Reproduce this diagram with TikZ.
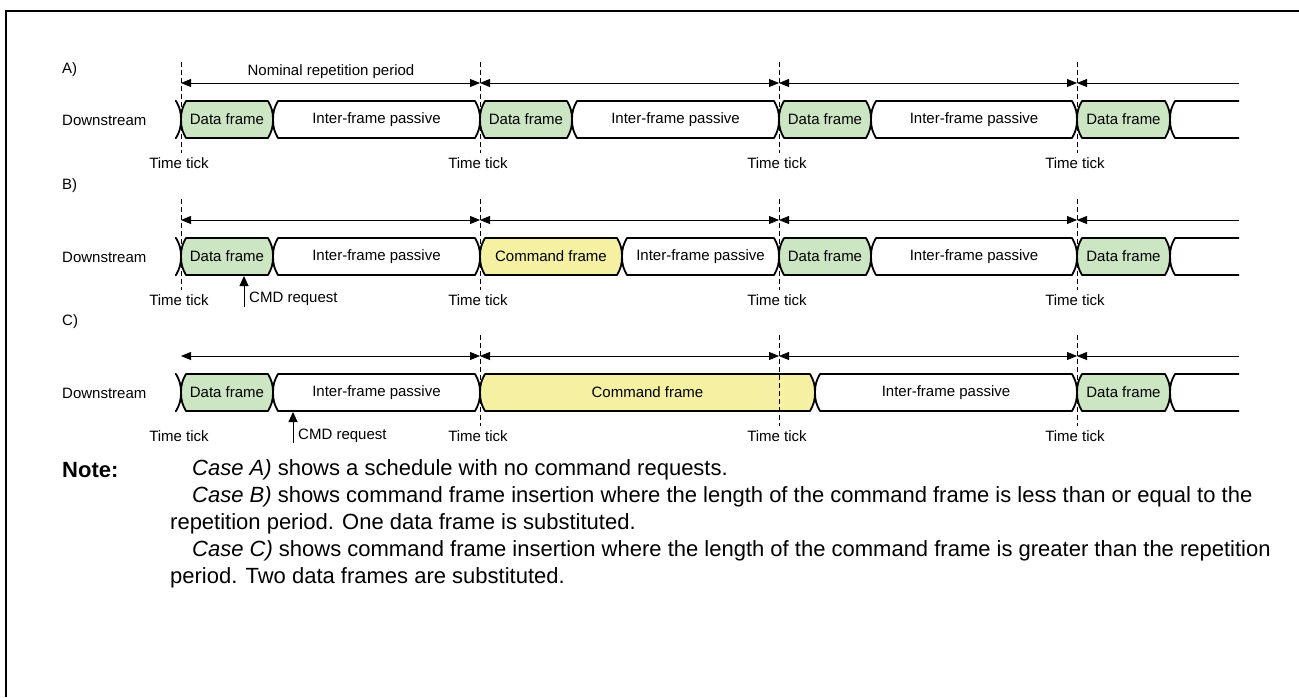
\documentclass[tikz,border=0pt]{standalone}
\usepackage{fontspec}
\setmainfont{Liberation Sans}
\usetikzlibrary{arrows.meta, positioning, calc}
\definecolor{framegreen}{HTML}{CCE6C4}
\definecolor{cmdyellow}{HTML}{F6F0A2}

\tikzset{
  bus/.style={draw=black, line width=1.8pt, line join=round},
  tickline/.style={line width=0.8pt, dash pattern=on 5pt off 3pt},
  period/.style={{Triangle[length=10pt,width=8pt]}-{Triangle[length=10pt,width=8pt]}, line width=0.8pt},
  halfperiod/.style={{Triangle[length=10pt,width=8pt]}-, line width=0.8pt},
  request/.style={-{Triangle[length=10pt,width=9pt]}, line width=0.9pt},
  lbl/.style={font=\fontsize{15}{18}\selectfont, inner sep=0pt},
  notetxt/.style={font=\fontsize{22}{26}\selectfont, inner sep=0pt, anchor=west},
}

% one bus segment between two crossings
\newcommand{\busseg}[6]{%
  \draw[bus, fill=#5] (#2+5,#4) -- (#3-5,#4) to[out=-60,in=90] (#3,#4+18.5)
    to[out=-90,in=60] (#3-5,#4+37) -- (#2+5,#4+37) to[out=120,in=-90] (#2,#4+18.5)
    to[out=90,in=-120] cycle;
  \node[lbl] (#1) at ({(#2+#3)/2},#4+18.5) {#6};
}
% open ends of the bus
\newcommand{\busstart}[1]{%
  \draw[bus] (175,#1) -- (176,#1) to[out=-60,in=90] (181,#1+18.5)
    to[out=-90,in=60] (176,#1+37) -- (175,#1+37);
}
\newcommand{\busend}[1]{%
  \draw[bus] (1239,#1) -- (1175,#1) to[out=-120,in=90] (1170,#1+18.5)
    to[out=-90,in=120] (1175,#1+37) -- (1239,#1+37);
}

\begin{document}
\begin{tikzpicture}[x=1pt, y=-1pt]
\useasboundingbox (0,0) rectangle (1299,697);

% frame
\draw[line width=2pt] (6,697) -- (6,11) -- (1299,11);

% case labels
\node[lbl, anchor=west] (caseA) at (62,70) {A)};
\node[lbl, anchor=west] (caseB) at (62,186) {B)};
\node[lbl, anchor=west] (caseC) at (62,322) {C)};
\foreach \r/\top in {A/101, B/238, C/374}
  \node[lbl, anchor=west] (ds\r) at (62,\top+19) {Downstream};

% Case A
\busstart{101}
\foreach \xa/\xb/\col/\txt [count=\i] in {181/273/framegreen/Data frame, 273/480/white/Inter-frame passive,
    480/572/framegreen/Data frame, 572/779/white/Inter-frame passive, 779/871/framegreen/Data frame,
    871/1077/white/Inter-frame passive, 1077/1170/framegreen/Data frame}
  {\busseg{A\i}{\xa}{\xb}{101}{\col}{\txt}}
\busend{101}

% Case B
\busstart{238}
\foreach \xa/\xb/\col/\txt [count=\i] in {181/273/framegreen/Data frame, 273/480/white/Inter-frame passive,
    480/622/cmdyellow/Command frame, 622/779/white/Inter-frame passive, 779/871/framegreen/Data frame,
    871/1077/white/Inter-frame passive, 1077/1170/framegreen/Data frame}
  {\busseg{B\i}{\xa}{\xb}{238}{\col}{\txt}}
\busend{238}

% Case C
\busstart{374}
\foreach \xa/\xb/\col/\txt [count=\i] in {181/273/framegreen/Data frame, 273/480/white/Inter-frame passive,
    480/815/cmdyellow/Command frame, 815/1077/white/Inter-frame passive, 1077/1170/framegreen/Data frame}
  {\busseg{C\i}{\xa}{\xb}{374}{\col}{\txt}}
\busend{374}

% time ticks and repetition periods
\foreach \r/\top in {A/101, B/238, C/374} {
  \foreach \t [count=\k] in {181,480,779,1077} {
    \coordinate (p\r\k) at (\t,\top-18);
    \node[lbl] (tt\r\k) at (\t-2,\top+62) {Time tick};
  }
  \coordinate (p\r5) at (1239,\top-18);
  \draw[period] (p\r1) -- (p\r2);
  \draw[period] (p\r2) -- (p\r3);
  \draw[period] (p\r3) -- (p\r4);
  \draw[halfperiod] (p\r4) -- (p\r5);
}
\foreach \t in {181,480,779,1077} {\draw[tickline] (\t,62) -- (\t,153);}
\foreach \t in {181,480,779,1077} {\draw[tickline] (\t,199) -- (\t,290);}
\foreach \t in {480,779,1077} {\draw[tickline] (\t,335) -- (\t,426);}
\node[lbl] (nominal) at (331,72) {Nominal repetition period};

% command requests
\coordinate (reqB) at (244,307);
\coordinate (reqC) at (293,443);
\draw[request] (reqB) -- (244,276);
\draw[request] (reqC) -- (293,412);
\node[lbl, anchor=west] (cmdB) at (249,299) {CMD request};
\node[lbl, anchor=west] (cmdC) at (298,436) {CMD request};

% note
\node[notetxt] (note) at (62,470) {\textbf{Note:}};
\node[notetxt] (n1) at (192,470) {\textit{Case A)} shows a schedule with no command requests.};
\node[notetxt] (n2) at (192,497) {\textit{Case B)} shows command frame insertion where the length of the command frame is less than or equal to the};
\node[notetxt] (n3) at (170,524) {repetition period. One data frame is substituted.};
\node[notetxt] (n4) at (192,551) {\textit{Case C)} shows command frame insertion where the length of the command frame is greater than the repetition};
\node[notetxt] (n5) at (170,578) {period. Two data frames are substituted.};
\end{tikzpicture}
\end{document}
